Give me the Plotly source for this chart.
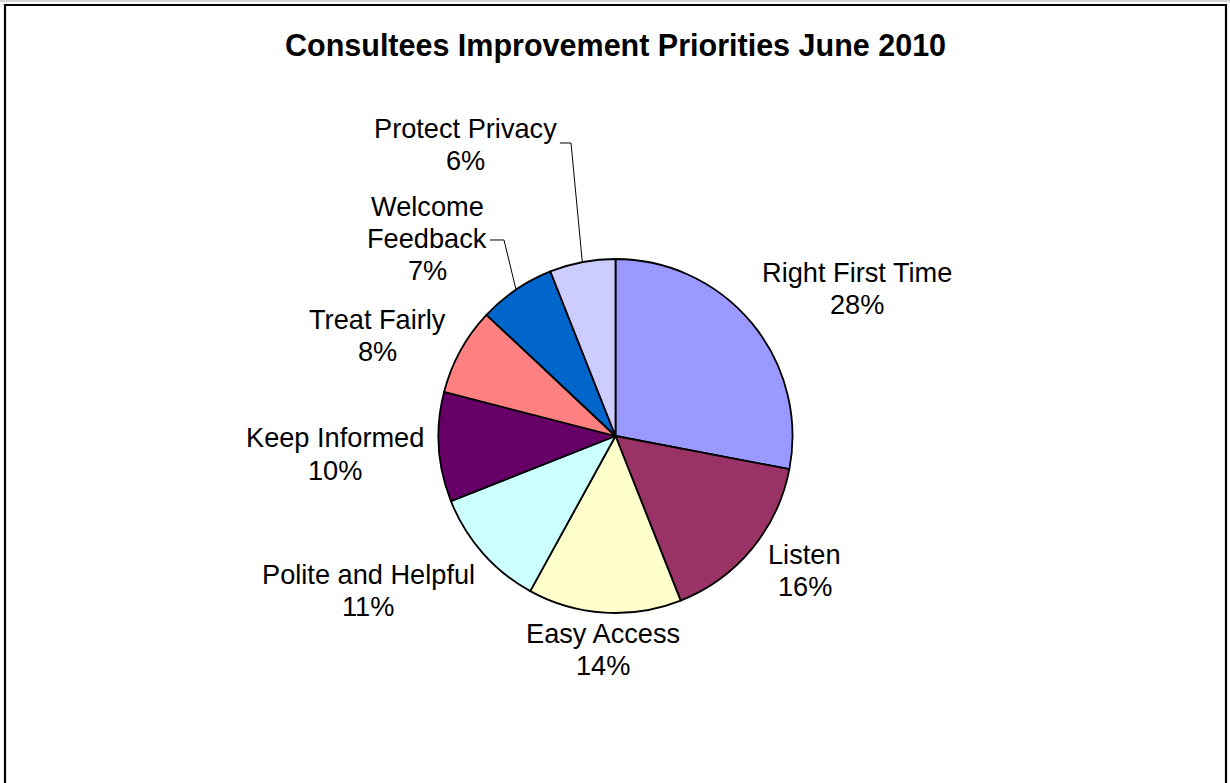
import math
import plotly.graph_objects as go

# ---- data ----
categories = ["Right First Time", "Listen", "Easy Access", "Polite and Helpful",
              "Keep Informed", "Treat Fairly", "Welcome Feedback", "Protect Privacy"]
label_lines = [["Right First Time"], ["Listen"], ["Easy Access"], ["Polite and Helpful"],
               ["Keep Informed"], ["Treat Fairly"], ["Welcome", "Feedback"], ["Protect Privacy"]]
values = [28, 16, 14, 11, 10, 8, 7, 6]
colors = ["#9999FF", "#993366", "#FFFFCC", "#CCFFFF",
          "#660066", "#FF8080", "#0066CC", "#CCCCFF"]
title_text = "Consultees Improvement Priorities June 2010"

# ---- layout geometry (pixels) ----
W, H = 1230, 783
CX, CY, R = 615.5, 436.0, 177.0
FONT = "Liberation Sans, Arial, sans-serif"
LINE_GAP = 32.0
# label centres (pixels) per category
label_pos = [(857, 288), (805, 570), (603, 649), (368, 590),
             (335, 454), (377, 335), (427, 238), (465, 144)]
# leader-line anchor points (pixels) at the label side
leader_from = {6: [(490, 240), (504, 240)], 7: [(560, 143), (571, 143)]}


def px(x):
    return x / W


def py(y):
    return 1 - y / H


fig = go.Figure(go.Pie(
    labels=categories,
    values=values,
    sort=False,
    direction="clockwise",
    rotation=0,
    marker=dict(colors=colors, line=dict(color="black", width=1.8)),
    textinfo="none",
    hoverinfo="label+percent",
    showlegend=False,
    domain=dict(x=[px(CX - R), px(CX + R)], y=[py(CY + R), py(CY - R)]),
))

total = sum(values)
annotations = [dict(text="<b>" + title_text + "</b>", x=px(615), y=py(46),
                    xref="paper", yref="paper", xanchor="center", yanchor="middle",
                    showarrow=False, font=dict(family=FONT, size=30.5, color="black"))]
shapes = []
cum = 0
for i, (lines, v) in enumerate(zip(label_lines, values)):
    pct = round(100 * v / total)
    all_lines = lines + [f"{pct}%"]
    n = len(all_lines)
    lx, ly = label_pos[i]
    for k, t in enumerate(all_lines):
        yk = ly + (k - (n - 1) / 2) * LINE_GAP
        annotations.append(dict(text=t, x=px(lx), y=py(yk),
                                xref="paper", yref="paper", xanchor="center", yanchor="middle",
                                showarrow=False,
                                font=dict(family=FONT, size=27.2, color="black")))
    mid = (cum + v / 2) / total * 2 * math.pi
    cum += v
    if i in leader_from:
        ex = CX + R * math.sin(mid)
        ey = CY - R * math.cos(mid)
        pts = leader_from[i] + [(ex, ey)]
        path = "M " + " L ".join(f"{px(x):.5f},{py(y):.5f}" for x, y in pts)
        shapes.append(dict(type="path", path=path, xref="paper", yref="paper",
                           line=dict(color="black", width=1)))

# chart frame
shapes.append(dict(type="rect", xref="paper", yref="paper",
                   x0=px(5), x1=px(1226), y0=py(5), y1=-0.05,
                   line=dict(color="black", width=2.2), fillcolor="rgba(0,0,0,0)"))
shapes.append(dict(type="line", xref="paper", yref="paper",
                   x0=0, x1=1, y0=py(1), y1=py(1),
                   line=dict(color="#C8C8C8", width=1.5)))

fig.update_layout(
    width=W, height=H,
    margin=dict(l=0, r=0, t=0, b=0),
    paper_bgcolor="white", plot_bgcolor="white",
    annotations=annotations, shapes=shapes,
)
fig.write_html("out.html")
